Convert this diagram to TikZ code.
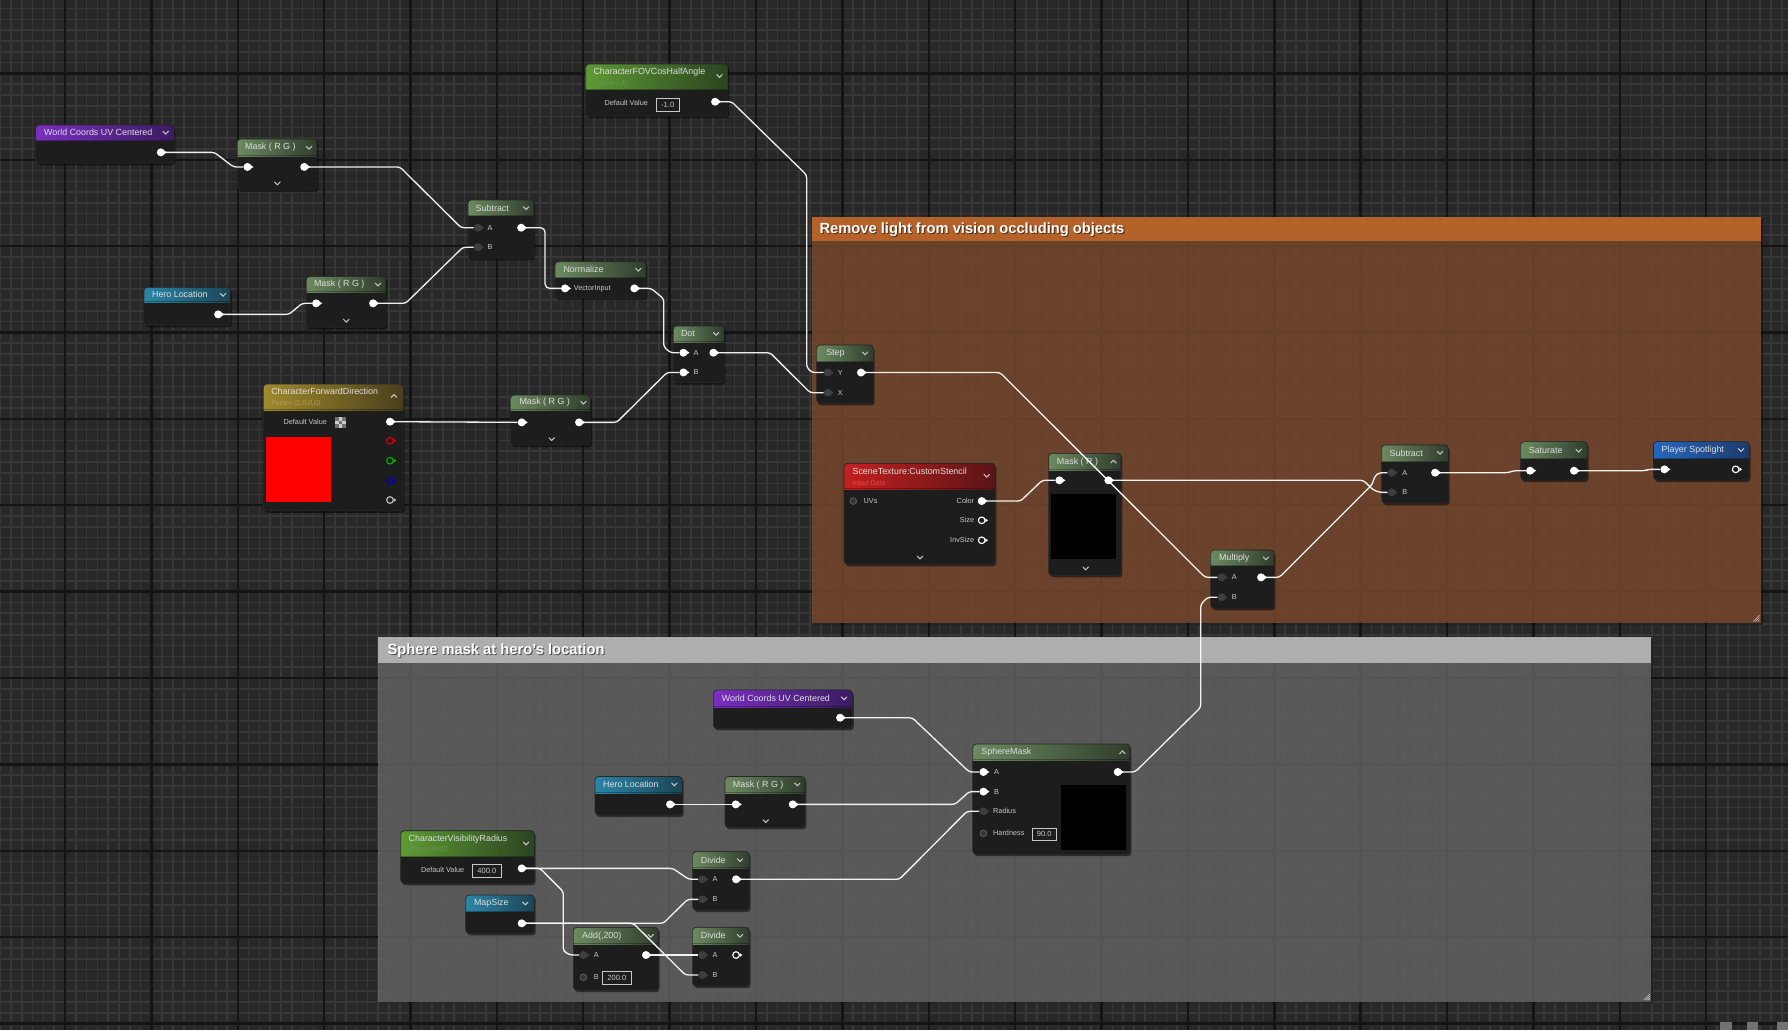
\documentclass[tikz,border=0pt]{standalone}
\usepackage{fontspec}
\setmainfont{Liberation Sans}
\usetikzlibrary{fit}
\definecolor{bg}{HTML}{282828}
\definecolor{gminor}{HTML}{373737}
\definecolor{gmajor}{HTML}{141414}
\definecolor{nbody}{HTML}{1D1D1D}
\definecolor{ttext}{HTML}{DEDEDE}
\definecolor{ltext}{HTML}{C8C8C8}
\definecolor{pingrey}{HTML}{3E3E3E}
\definecolor{cmtorange}{HTML}{855033}
\definecolor{cmtorangeH}{HTML}{B5612A}
\definecolor{cmtgrey}{HTML}{6D6D6D}
\definecolor{cmtgreyH}{HTML}{AEAEAE}
\definecolor{mathL}{HTML}{6C8B61}
\definecolor{mathR}{HTML}{313D2D}
\definecolor{parL}{HTML}{5E9A34}
\definecolor{parR}{HTML}{2A4420}
\definecolor{vecL}{HTML}{A08A2C}
\definecolor{vecR}{HTML}{4A3F1C}
\definecolor{purL}{HTML}{7A2EC0}
\definecolor{purR}{HTML}{3A1C60}
\definecolor{tealL}{HTML}{2B86A8}
\definecolor{tealR}{HTML}{1B4454}
\definecolor{redL}{HTML}{C42020}
\definecolor{redR}{HTML}{5A1515}
\definecolor{bluL}{HTML}{2468C0}
\definecolor{bluR}{HTML}{1E3A6A}
\definecolor{subgreen}{HTML}{6E9250}
\definecolor{subgold}{HTML}{B49C52}
\definecolor{subred}{HTML}{E04848}

\newcommand\uen[8]{%
  \fill[black,opacity=0.5,rounded corners=3pt] (#2+1.2,#3+1.8) rectangle (#4+1.2,#5+1.8);
  \node (#1) [nodebody,fit={(#2,#3) (#4,#5)}] {};
  \begin{scope}
    \clip[rounded corners=3pt] (#2,#3) rectangle (#4,#5);
    \shade[left color=#7,right color=#8] (#2,#3) rectangle (#4,#6);
    \fill[black,opacity=0.3] (#2,#6-0.8) rectangle (#4,#6);
  \end{scope}
  \draw[draw=black!85,line width=0.6pt,rounded corners=3pt] (#2,#3) rectangle (#4,#5);
}
\newcommand\chev[2]{\draw[chevst] (#1-2.4,#2-1.2) -- (#1,#2+1.3) -- (#1+2.4,#2-1.2);}
\newcommand\chevup[2]{\draw[chevst] (#1-2.4,#2+1.2) -- (#1,#2-1.3) -- (#1+2.4,#2+1.2);}
\newcommand\pw[3]{\node (#1) [pinW] at (#2,#3) {}; \fill[white] (#2+2.2,#3-2.1) -- (#2+5.3,#3) -- (#2+2.2,#3+2.1) -- cycle;}
\newcommand\pg[3]{\node (#1) [pinG] at (#2,#3) {}; \fill[pingrey] (#2+2.2,#3-2.1) -- (#2+5.3,#3) -- (#2+2.2,#3+2.1) -- cycle;}
\newcommand\ph[4]{\node (#1) [circle,draw=#4,line width=1pt,minimum size=5.8pt,inner sep=0pt] at (#2,#3) {}; \fill[#4] (#2+3.3,#3-1.7) -- (#2+5.5,#3) -- (#2+3.3,#3+1.7) -- cycle;}
\newcommand\pd[3]{\node (#1) [circle,draw=black!65,fill=black!80,line width=0.8pt,minimum size=5.8pt,inner sep=0pt] at (#2,#3) {};}

\begin{document}
\begin{tikzpicture}[x=1pt,y=-1pt,
  minor/.style={draw=gminor,line width=1.4pt},
  major/.style={draw=gmajor,line width=2.1pt},
  nodebody/.style={fill=nbody,inner sep=0pt,outer sep=0pt,rounded corners=3pt},
  ntitle/.style={font=\fontsize{7.8}{9}\selectfont,text=ttext,inner sep=0pt,anchor=west},
  nsub/.style={font=\itshape\fontsize{6.2}{7}\selectfont,inner sep=0pt,anchor=west},
  plabel/.style={font=\fontsize{6.4}{7}\selectfont,text=ltext,inner sep=0pt,anchor=west},
  plabelr/.style={font=\fontsize{6.4}{7}\selectfont,text=ltext,inner sep=0pt,anchor=east},
  valbox/.style={draw=ltext,line width=0.6pt,font=\fontsize{6.6}{7}\selectfont,text=ltext,inner sep=0pt,anchor=north west},
  wire/.style={draw=white,line width=1.15pt,rounded corners=2.5pt,opacity=0.93},
  pinW/.style={circle,fill=white,minimum size=7pt,inner sep=0pt},
  pinG/.style={circle,fill=pingrey,minimum size=7pt,inner sep=0pt},
  chevst/.style={draw=ltext,line width=0.9pt,line cap=round,line join=round},
  cmttitle/.style={font=\bfseries\fontsize{12.9}{14}\selectfont,text=white,anchor=west,inner sep=0pt},
  cmtshadow/.style={font=\bfseries\fontsize{12.9}{14}\selectfont,text=black,text opacity=0.55,anchor=west,inner sep=0pt}
]
\useasboundingbox (0,0) rectangle (1568,903);
\clip (0,0) rectangle (1568,903);
% background grid
\fill[bg] (0,0) rectangle (1568,903);
\foreach \i in {0,...,166} \draw[minor] ({0.19+\i*9.46875},0) -- ++(0,903);
\foreach \j in {0,...,95} \draw[minor] (0,{7.49+\j*9.46875}) -- ++(1568,0);
\foreach \i in {0,...,21} \draw[major] ({-18.75+\i*75.75},0) -- ++(0,903);
\foreach \j in {0,...,12} \draw[major] (0,{-11.45+\j*75.75}) -- ++(1568,0);
\fill[black!55] (1508,896) rectangle (1519,903);
\fill[black!55] (1532,896) rectangle (1542,903);
\fill[black!55] (1558,896) rectangle (1568,903);

% comment boxes
\fill[black,opacity=0.35] (713,191.5) rectangle (1546,548);
\node (cmtA) [fit={(711.8,190) (1544,546)},inner sep=0pt,fill=cmtorange,fill opacity=0.75] {};
\fill[cmtorangeH] (711.8,190) rectangle (1544,211.5);
\node (cmtA-shadow) [cmtshadow] at (719.4,202.1) {Remove light from vision occluding objects};
\node (cmtA-title) [cmttitle] at (718.5,201.1) {Remove light from vision occluding objects};
\foreach \k in {1.5,3.5,5.5} \draw[white!80!black,line width=0.5pt] (1543-\k,545) -- (1543,545-\k);

\fill[black,opacity=0.35] (333.5,560.5) rectangle (1450,880);
\node (cmtB) [fit={(331.8,558.9) (1448,878.4)},inner sep=0pt,fill=cmtgrey,fill opacity=0.75] {};
\fill[cmtgreyH] (331.8,558.9) rectangle (1448,581.2);
\node (cmtB-shadow) [cmtshadow] at (340.6,571.6) {Sphere mask at hero's location};
\node (cmtB-title) [cmttitle] at (339.7,570.6) {Sphere mask at hero's location};
\foreach \k in {1.5,3.5,5.5} \draw[white!80!black,line width=0.5pt] (1447-\k,877) -- (1447,877-\k);

% ---------------- nodes ----------------
% World Coords UV Centered (1)
\uen{wcuv1}{31.2}{109.6}{152.7}{143.2}{123.4}{purL}{purR}
\node (wcuv1-title) [ntitle] at (38.6,116.3) {World Coords UV Centered};
\chev{145.3}{116.3}
\pw{wcuv1-o}{141}{133.6}

% Mask RG (1)
\uen{mrg1}{208}{121.9}{277.9}{166.6}{136.8}{mathL}{mathR}
\node (mrg1-title) [ntitle] at (214.8,129.5) {Mask ( R G )};
\chev{271}{129.5}
\chev{243.3}{160.8}
\pw{mrg1-i}{217}{146.4}
\pw{mrg1-o}{266.8}{146.4}

% Subtract (1)
\uen{sub1}{410.4}{175.4}{468.1}{226.6}{189.1}{mathL}{mathR}
\node (sub1-title) [ntitle] at (417,182.5) {Subtract};
\chev{461.4}{182.5}
\pg{sub1-A}{419.1}{199.7}
\pg{sub1-B}{419.1}{216.8}
\pw{sub1-o}{457}{199.7}
\node (sub1-la) [plabel] at (427.5,199.7) {A};
\node (sub1-lb) [plabel] at (427.5,216.8) {B};

% Hero Location (1)
\uen{hl1}{126.2}{251.9}{202.3}{285.3}{265}{tealL}{tealR}
\node (hl1-title) [ntitle] at (133.2,258.5) {Hero Location};
\chev{195.6}{258.5}
\pw{hl1-o}{191.3}{275.7}

% Mask RG (2)
\uen{mrg2}{268.5}{242.6}{338.3}{287}{256.4}{mathL}{mathR}
\node (mrg2-title) [ntitle] at (275.2,249.6) {Mask ( R G )};
\chev{331.5}{249.5}
\chev{303.7}{281.2}
\pw{mrg2-i}{277.2}{266}
\pw{mrg2-o}{327.2}{266}

% Normalize
\uen{norm}{486.7}{229.5}{566.5}{261.6}{243.5}{mathL}{mathR}
\node (norm-title) [ntitle] at (494,236.5) {Normalize};
\chev{559.8}{236.5}
\pw{norm-i}{495.5}{252.9}
\pw{norm-o}{556.3}{252.9}
\node (norm-lv) [plabel] at (503,252.9) {VectorInput};

% Dot
\uen{dot}{590.5}{285.8}{635}{335.5}{300}{mathL}{mathR}
\node (dot-title) [ntitle] at (597,292.7) {Dot};
\chev{628}{292.7}
\pw{dot-A}{599.3}{309.3}
\pw{dot-B}{599.3}{326.6}
\pw{dot-o}{625.6}{309.3}
\node (dot-la) [plabel] at (608,309.3) {A};
\node (dot-lb) [plabel] at (608,326.6) {B};

% CharacterFOVCosHalfAngle
\uen{cfov}{513.6}{56.1}{638.3}{101.7}{78.9}{parL}{parR}
\node (cfov-title) [ntitle] at (520.3,63.2) {CharacterFOVCosHalfAngle};
\node (cfov-sub) [nsub,text=subgreen] at (520.3,73.1) {Param (-1)};
\chev{630.9}{66.6}
\node (cfov-dv) [plabel] at (530,90.6) {Default Value};
\node (cfov-val) [valbox,minimum width=19.9pt,minimum height=11.2pt] at (575.3,85.7) {-1.0};
\pw{cfov-o}{627.1}{89.2}

% CharacterForwardDirection
\uen{cfd}{230.9}{336.8}{353.7}{447.9}{359.6}{vecL}{vecR}
\node (cfd-title) [ntitle] at (237.7,343.5) {CharacterForwardDirection};
\node (cfd-sub) [nsub,text=subgold] at (237.7,353.7) {Param (1,0,0,0)};
\chevup{345.5}{347.3}
\node (cfd-dv) [plabel] at (248.5,370.4) {Default Value};
\node (cfd-chk) [fit={(293.8,366) (303.1,375.3)},inner sep=0pt,fill=white!80!black] {};
\foreach \a/\b in {0/0,2/0,1/1,0/2,2/2} \fill[white!45!black] ({293.8+\a*3.1},{366+\b*3.1}) rectangle ++(3.1,3.1);
\node (cfd-sw) [fit={(233.3,383) (290.3,440)},inner sep=0pt,fill=red] {};
\pw{cfd-o}{342}{369.8}
\ph{cfd-r}{342}{386.5}{red!85!black}
\ph{cfd-g}{342}{404}{green!70!black}
\ph{cfd-b}{342}{421.5}{blue!75!black}
\ph{cfd-a}{342}{438.5}{white!75!black}

% Mask RG (3)
\uen{mrg3}{447.8}{346.4}{518}{390.3}{359.6}{mathL}{mathR}
\node (mrg3-title) [ntitle] at (455.4,353.1) {Mask ( R G )};
\chev{511.6}{353.1}
\chev{483.8}{385}
\pw{mrg3-i}{457.5}{370.4}
\pw{mrg3-o}{507.8}{370.4}

% Step
\uen{step}{716.2}{302.6}{765.9}{353.7}{317.2}{mathL}{mathR}
\node (step-title) [ntitle] at (724.4,309.8) {Step};
\chev{758.6}{309.8}
\pg{step-Y}{725.9}{326.7}
\pg{step-X}{725.9}{344.4}
\pw{step-o}{755}{326.7}
\node (step-ly) [plabel] at (734.5,326.7) {Y};
\node (step-lx) [plabel] at (734.5,344.4) {X};

% SceneTexture:CustomStencil
\uen{st}{740.2}{406.3}{872.6}{494.9}{429.1}{redL}{redR}
\node (st-title) [ntitle] at (747.5,413.6) {SceneTexture:CustomStencil};
\node (st-sub) [nsub,text=subred] at (747.5,423.9) {Input Data};
\chev{865.3}{417.2}
\chev{806.8}{488.8}
\pd{st-uv}{748.3}{439.4}
\node (st-luv) [plabel] at (757.2,439.4) {UVs};
\pw{st-color}{860.9}{439.4}
\node (st-lc) [plabelr] at (854.5,439.4) {Color};
\ph{st-size}{860.9}{456.3}{white}
\node (st-ls) [plabelr] at (854.5,456.3) {Size};
\ph{st-inv}{860.9}{473.8}{white}
\node (st-li) [plabelr] at (854.5,473.8) {InvSize};

% Mask R
\uen{mr}{919.7}{397.6}{983.1}{504.6}{412.2}{mathL}{mathR}
\node (mr-title) [ntitle] at (926.7,404.9) {Mask ( R )};
\chevup{976.4}{404.9}
\node (mr-prev) [fit={(921.7,433.2) (978.7,490)},inner sep=0pt,fill=black] {};
\chev{952.1}{498.4}
\pw{mr-i}{929}{421.2}
\pw{mr-o}{972}{421.2}

% Multiply
\uen{mul}{1061.7}{482.3}{1117.3}{533.5}{496.1}{mathL}{mathR}
\node (mul-title) [ntitle] at (1069,489.6) {Multiply};
\chev{1110.2}{489.6}
\pg{mul-A}{1071.3}{506.3}
\pg{mul-B}{1071.3}{523.8}
\pw{mul-o}{1105.9}{506.3}
\node (mul-la) [plabel] at (1080,506.3) {A};
\node (mul-lb) [plabel] at (1080,523.8) {B};

% Subtract (2)
\uen{sub2}{1211.7}{390.2}{1270}{441.4}{404.9}{mathL}{mathR}
\node (sub2-title) [ntitle] at (1218.5,397.3) {Subtract};
\chev{1262.8}{397}
\pg{sub2-A}{1220.4}{414.5}
\pg{sub2-B}{1220.4}{431.8}
\pw{sub2-o}{1258.5}{414.5}
\node (sub2-la) [plabel] at (1229.5,414.5) {A};
\node (sub2-lb) [plabel] at (1229.5,431.8) {B};

% Saturate
\uen{sat}{1333.6}{387.3}{1392}{421}{402.4}{mathL}{mathR}
\node (sat-title) [ntitle] at (1340.5,394.8) {Saturate};
\chev{1384.4}{395.2}
\pw{sat-i}{1341.8}{412.8}
\pw{sat-o}{1380.3}{412.8}

% Player Spotlight
\uen{ps}{1450}{387.3}{1534}{421}{402.4}{bluL}{bluR}
\node (ps-title) [ntitle] at (1457,394.8) {Player Spotlight};
\chev{1526.8}{394.6}
\pw{ps-i}{1459.6}{411.6}
\ph{ps-o}{1522.1}{411.6}{white}

% World Coords UV Centered (2)
\uen{wcuv2}{625.6}{605}{747.5}{638.7}{620.3}{purL}{purR}
\node (wcuv2-title) [ntitle] at (632.8,612.4) {World Coords UV Centered};
\chev{740.2}{612.4}
\pw{wcuv2-o}{736.7}{629.4}

% Hero Location (2)
\uen{hl2}{521.8}{681}{598.4}{714.7}{695.7}{tealL}{tealR}
\node (hl2-title) [ntitle] at (528.8,688.2) {Hero Location};
\chev{591.4}{687.8}
\pw{hl2-o}{587.6}{705.4}

% Mask RG (4)
\uen{mrg4}{635.8}{681}{706}{725.5}{695.7}{mathL}{mathR}
\node (mrg4-title) [ntitle] at (642.6,688.2) {Mask ( R G )};
\chev{699.2}{687.8}
\chev{671.5}{720}
\pw{mrg4-i}{645.2}{705.4}
\pw{mrg4-o}{695.2}{705.4}

% SphereMask
\uen{sm}{853}{652.5}{991}{749}{666.5}{mathL}{mathR}
\node (sm-title) [ntitle] at (860.5,659.6) {SphereMask};
\chevup{984.2}{659.8}
\node (sm-prev) [fit={(930.5,688.4) (987.5,745.4)},inner sep=0pt,fill=black] {};
\pw{sm-A}{862.4}{677}
\pw{sm-B}{862.4}{694.2}
\pg{sm-R}{862.4}{711.5}
\pd{sm-H}{862.4}{730.8}
\pw{sm-o}{980.2}{677}
\node (sm-la) [plabel] at (871.5,677) {A};
\node (sm-lb) [plabel] at (871.5,694.2) {B};
\node (sm-lr) [plabel] at (870.8,711.5) {Radius};
\node (sm-lh) [plabel] at (870.8,730.8) {Hardness};
\node (sm-val) [valbox,minimum width=20.8pt,minimum height=11.2pt] at (905,725.8) {90.0};

% CharacterVisibilityRadius
\uen{cvr}{351.4}{728.5}{468.6}{774.6}{751.3}{parL}{parR}
\node (cvr-title) [ntitle] at (358.2,735.5) {CharacterVisibilityRadius};
\node (cvr-sub) [nsub,text=subgreen] at (358.2,745.4) {Param (400)};
\chev{461.3}{739.6}
\node (cvr-dv) [plabel] at (369,763) {Default Value};
\node (cvr-val) [valbox,minimum width=24.8pt,minimum height=10.8pt] at (414.2,758) {400.0};
\pw{cvr-o}{457.5}{761.5}

% MapSize
\uen{ms}{408.4}{784.9}{468.6}{818.5}{799.5}{tealL}{tealR}
\node (ms-title) [ntitle] at (415.5,792.2) {MapSize};
\chev{460.7}{792.2}
\pw{ms-o}{457.5}{809.7}

% Divide (1)
\uen{div1}{607.4}{746.9}{657.1}{798}{761.5}{mathL}{mathR}
\node (div1-title) [ntitle] at (614.5,754.2) {Divide};
\chev{649}{754.2}
\pg{div1-A}{615.9}{771.1}
\pg{div1-B}{615.9}{788.7}
\pw{div1-o}{645.5}{771.1}
\node (div1-la) [plabel] at (624.8,771.1) {A};
\node (div1-lb) [plabel] at (624.8,788.7) {B};

% Divide (2)
\uen{div2}{607.4}{813.2}{657.1}{864.7}{827.9}{mathL}{mathR}
\node (div2-title) [ntitle] at (614.5,820.6) {Divide};
\chev{649}{820.6}
\pg{div2-A}{615.9}{837.5}
\pg{div2-B}{615.9}{855}
\ph{div2-o}{645.5}{837.5}{white}
\node (div2-la) [plabel] at (624.8,837.5) {A};
\node (div2-lb) [plabel] at (624.8,855) {B};

% Add(,200)
\uen{add}{502.8}{813.2}{577.3}{868.2}{827.9}{mathL}{mathR}
\node (add-title) [ntitle] at (510.4,820.6) {Add(,200)};
\chev{570.6}{820.6}
\pg{add-A}{511.6}{837.5}
\pd{add-B}{511.6}{857}
\pw{add-o}{566.5}{837.5}
\node (add-la) [plabel] at (520.5,837.5) {A};
\node (add-lb) [plabel] at (520.5,857) {B};
\node (add-val) [valbox,minimum width=24.8pt,minimum height=11.7pt] at (528.2,851.5) {200.0};

% ---------------- wires ----------------
\draw[wire] (wcuv1-o) -- (188,133.6) -- (204.7,146.4) -- (mrg1-i);
\draw[wire] (mrg1-o) -- (350.7,146.4) -- (404.4,199.7) -- (sub1-A);
\draw[wire] (hl1-o) -- (253.4,275.7) -- (265,266) -- (mrg2-i);
\draw[wire] (mrg2-o) -- (355.7,266) -- (406,216.8) -- (sub1-B);
\draw[wire,rounded corners=4pt] (sub1-o) -- (478,199.7) -- (478,252.9) -- (norm-i);
\draw[wire] (norm-o) -- (571,252.9) -- (582,262) -- (582,304) -- (588,309.3) -- (dot-A);
\draw[wire] (mrg3-o) -- (540.8,370.4) -- (585,326.6) -- (dot-B);
\draw[wire] (cfd-o) -- (mrg3-i);
\draw[wire] (cfov-o) -- (641.6,89.2) -- (707.4,153.5) -- (707.4,322) -- (712,326.7) -- (step-Y);
\draw[wire] (dot-o) -- (675.3,309.3) -- (710.5,344.4) -- (step-X);
\draw[wire] (st-color) -- (895,439.4) -- (914,421.2) -- (mr-i);
\draw[wire] (mr-o) -- (1195.6,421.2) -- (1204,429.5) -- (1210,431.8) -- (sub2-B);
\draw[wire] (mul-o) -- (1121.9,506.3) -- (1203,425.3) -- (1206,417) -- (1210,414.5) -- (sub2-A);
\draw[wire] (sub2-o) -- (1322.8,414.5) -- (1327,412.8) -- (sat-i);
\draw[wire] (sat-o) -- (1442.6,412.8) -- (1445.5,411.6) -- (ps-i);
\draw[wire] (sm-o) -- (995.4,677) -- (1053,620.3) -- (1053,530) -- (1059,523.8) -- (mul-B);
\draw[wire] (wcuv2-o) -- (800,629.4) -- (850,677) -- (sm-A);
\draw[wire] (hl2-o) -- (mrg4-i);
\draw[wire] (mrg4-o) -- (837.5,705.4) -- (850,694.2) -- (sm-B);
\draw[wire] (div1-o) -- (788.7,771.1) -- (848,711.5) -- (sm-R);
\draw[wire] (cvr-o) -- (590,761.5) -- (604,771.1) -- (div1-A);
\draw[wire] (cvr-o) -- (473.6,761.5) -- (494,782) -- (494,834) -- (500,837.5) -- (add-A);
\draw[wire] (ms-o) -- (581.7,809.7) -- (603,788.7) -- (div1-B);
\draw[wire] (ms-o) -- (555.4,809.7) -- (601,855) -- (div2-B);
\draw[wire] (add-o) -- (div2-A);
\draw[wire] (step-o) -- (877,326.7) -- (1056.8,506.3) -- (mul-A);
\end{tikzpicture}
\end{document}
